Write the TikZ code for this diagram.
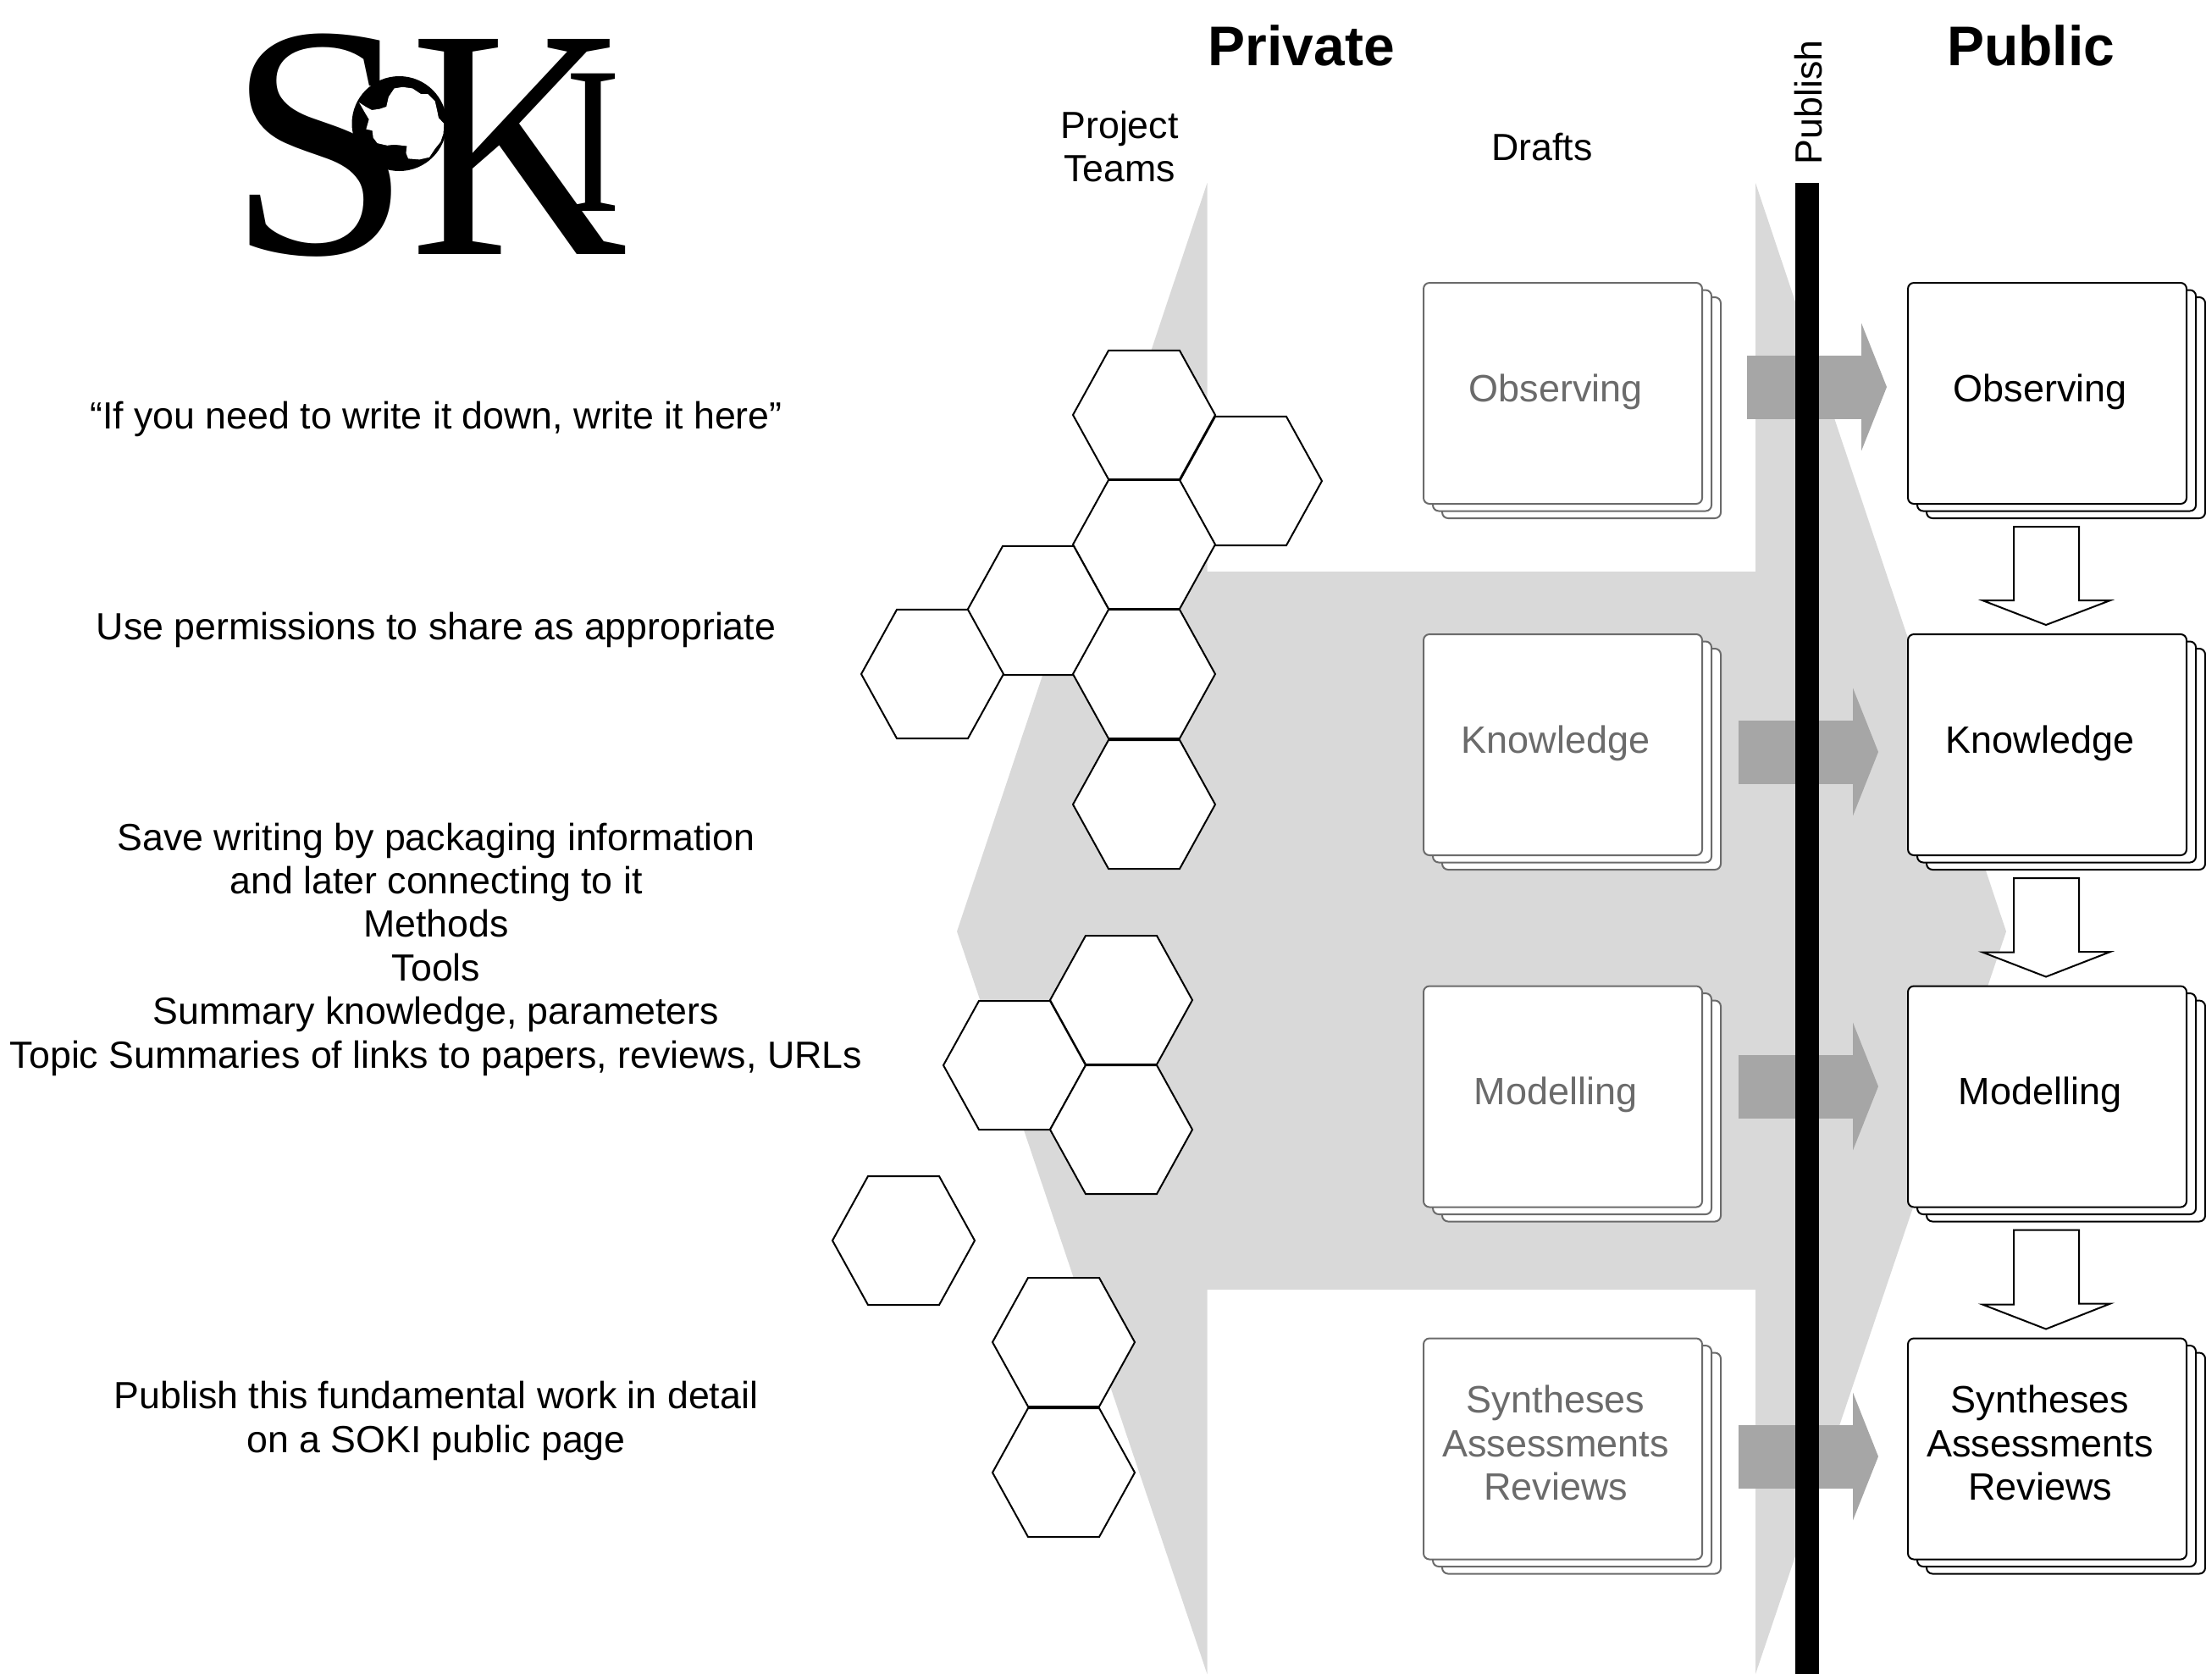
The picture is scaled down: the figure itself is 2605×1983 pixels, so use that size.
\documentclass[tikz,border=0pt]{standalone}
\usepackage{fontspec}
\setmainfont{Liberation Sans}
\newfontfamily\logofont{Liberation Serif}
\usetikzlibrary{arrows.meta,shapes.geometric}
\definecolor{bandgray}{HTML}{D9D9D9}
\definecolor{flowgray}{HTML}{A6A6A6}
\definecolor{draftgray}{HTML}{6B6B6B}

\begin{document}
\begin{tikzpicture}[x=0.5pt,y=-0.5pt,
    sheet/.style={
        rectangle,
        rounded corners=3.5pt,
        draw=black, line width=1pt,
        fill=white,
        minimum width=164.5pt,
        minimum height=130.5pt,
        inner sep=0pt, outer sep=0pt},
    draftsheet/.style={
        sheet,
        draw=draftgray},
    textlabel/.style={
        font=\fontsize{22.35}{25.7}\selectfont,
        align=center,
        inner sep=0pt},
    boxlabel/.style={
        textlabel,
        font=\fontsize{22.5}{25.7}\selectfont},
    headline/.style={
        font=\fontsize{33}{38}\selectfont\bfseries,
        inner sep=0pt},
    hexcell/.style={
        regular polygon,
        regular polygon sides=6,
        draw=black, line width=1pt,
        fill=white,
        minimum size=84pt,
        inner sep=0pt, outer sep=0pt,
        yscale=1.045,
        transform shape},
    flow/.style={
        flowgray,
        line width=37.5pt,
        -{Triangle[length=15pt,width=75pt]}},
    hollow/.style={
        draw=black, line width=1pt,
        fill=white,
        line join=miter},
    logotext/.style={
        font=\logofont,
        inner sep=0pt,
        anchor=base}
    ]

    \useasboundingbox (0,0) rectangle (2605,1983);

    % grey band behind everything
    \fill [bandgray] (1425.5,216) -- (1425.5,675) -- (2073,675) -- (2073,216)
        -- (2369,1100) -- (2073,1977) -- (2073,1523) -- (1425.5,1523)
        -- (1425.5,1977) -- (1130,1100) -- cycle;

    % logo
    \node (logoS) [logotext, font=\logofont\fontsize{196}{196}\selectfont] at (378,299) {S};
    \node (logoK) [logotext, font=\logofont\fontsize{194}{194}\selectfont, xscale=0.92, transform shape] at (613,300) {K};
    \node (logoI) [logotext, font=\logofont\fontsize{124}{124}\selectfont, xscale=0.8, transform shape] at (701,249) {I};
    \node (logoglobe) [circle, fill=black, minimum size=56pt, inner sep=0pt] at (471.5,146) {};
    \begin{scope}[shift={(250,0)},x=0.1658pt,y=-0.1658pt]
    \fill [white] (525,365) -- (548,380) -- (570,392) -- (598,388) -- (622,380)
        -- (630,345) -- (650,315) -- (680,310) -- (715,315) -- (745,335) -- (770,335)
        -- (795,360) -- (803,395) -- (808,420) -- (827,440) -- (825,475) -- (815,505)
        -- (795,530) -- (775,560) -- (740,568) -- (700,565) -- (692,545) -- (695,520)
        -- (650,515) -- (625,518) -- (590,510) -- (575,490) -- (572,465) -- (550,460)
        -- (560,425) -- (545,400) -- cycle;
    \end{scope}

    % headings
    \node (private) [headline] at (1537,53.5) {Private};
    \node (public) [headline] at (2398,53.5) {Public};
    \node (teams) [textlabel] at (1322,173) {Project\\Teams};
    \node (drafts) [textlabel] at (1821,174) {Drafts};
    \node (publish) [textlabel, rotate=90] at (2135,121) {Publish};

    % left column
    \node (motto) [textlabel] at (515,495) {“If you need to write it down, write it here”};
    \node (share) [textlabel] at (515,744) {Use permissions to share as appropriate};
    \node (packaging) [textlabel] at (515,1121) {Save writing by packaging information\\and later connecting to it\\Methods\\Tools\\Summary knowledge, parameters\\Topic Summaries of links to papers, reviews, URLs};
    \node (detail) [textlabel] at (515,1678) {Publish this fundamental work in detail\\on a SOKI public page};

    % project teams
    \foreach \cell/\cx/\cy in {a/1351/490, b/1477/568, c/1351/643, d/1226/721, e/1101/796, f/1351/796, g/1351/950,
        h/1324/1181, i/1198/1258, j/1324/1334, k/1067/1465, l/1256/1585, m/1256/1739}
        \node (hex\cell) [hexcell] at (\cx,\cy) {};

    % stacks of drafts and public pages
    \foreach \row/\ypos/\lift/\rowtext in {obs/464.5/-2/{Observing}, know/879.5/-2/{Knowledge}, mod/1295/-2/{Modelling},
        syn/1711/-7/{Syntheses\\Assessments\\Reviews}} {
        \node (draft\row c) [draftsheet] at (1867.5,\ypos+17) {};
        \node (draft\row b) [draftsheet] at (1856.5,\ypos+8.5) {};
        \node (draft\row) [draftsheet] at (1845.5,\ypos) {};
        \node (draftlabel\row) [boxlabel, text=draftgray] at (1837,\ypos+\lift) {\rowtext};
        \node (pub\row c) [sheet] at (2439.5,\ypos+17) {};
        \node (pub\row b) [sheet] at (2428.5,\ypos+8.5) {};
        \node (pub\row) [sheet] at (2417.5,\ypos) {};
        \node (publabel\row) [boxlabel] at (2409,\ypos+\lift) {\rowtext};
    }

    % publishing arrows, then the bar over them
    \foreach \row/\rowshift/\tailgap/\tipgap in {obs/-7.5/26.5/12.5, know/8.5/21.5/17.5, mod/-12/21.5/17.5, syn/9/21.5/17.5}
        \draw [flow, shorten <=\tailgap pt, shorten >=\tipgap pt]
            ([shift={(0,\rowshift)}]draft\row.east) -- ([shift={(0,\rowshift)}]pub\row.west);
    \fill [black] (2120,216) rectangle (2148,1977);

    % white arrows down the public column
    \foreach \from/\to in {obs/know, know/mod, mod/syn}
        \draw [hollow] ([shift={(-39.5,27)}]pub\from.south) -- ++(77,0) -- ++(0,87) -- ++(37,0)
            -- ([shift={(-1.5,-11)}]pub\to.north) -- ++(-75,-29) -- ++(37,0) -- cycle;

\end{tikzpicture}
\end{document}
